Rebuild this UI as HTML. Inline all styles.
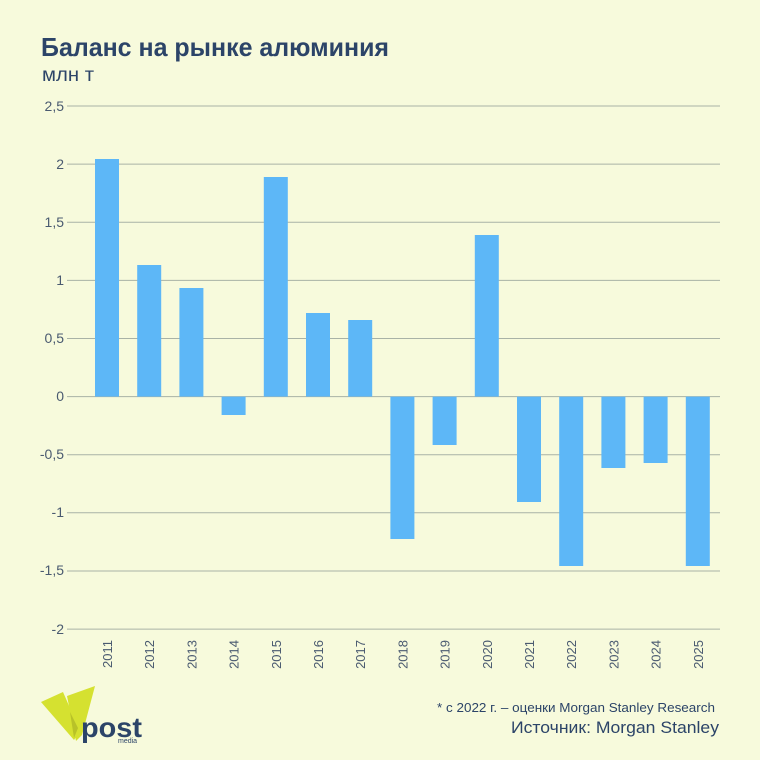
<!DOCTYPE html>
<html><head><meta charset="utf-8"><style>
html,body{margin:0;padding:0;background:#f7fadc;}
svg{display:block;font-family:"Liberation Sans",sans-serif;}
</style></head><body>
<svg width="760" height="760" viewBox="0 0 760 760" xmlns="http://www.w3.org/2000/svg">
<rect width="760" height="760" fill="#f7fadc"/>
<text x="41" y="56" font-size="26" font-weight="bold" fill="#2c4468" textLength="348" lengthAdjust="spacingAndGlyphs">Баланс на рынке алюминия</text>
<text x="42" y="81" font-size="19" fill="#2c4468" textLength="52" lengthAdjust="spacingAndGlyphs">млн т</text>
<g stroke="#a9b2a6" stroke-width="1">
<line x1="67" x2="720" y1="106" y2="106"/>
<line x1="67" x2="720" y1="164.1" y2="164.1"/>
<line x1="67" x2="720" y1="222.2" y2="222.2"/>
<line x1="67" x2="720" y1="280.4" y2="280.4"/>
<line x1="67" x2="720" y1="338.5" y2="338.5"/>
<line x1="67" x2="720" y1="396.6" y2="396.6"/>
<line x1="67" x2="720" y1="454.7" y2="454.7"/>
<line x1="67" x2="720" y1="512.8" y2="512.8"/>
<line x1="67" x2="720" y1="571" y2="571"/>
<line x1="67" x2="720" y1="629.1" y2="629.1"/>
</g>
<g font-size="14" fill="#4a5a70" text-anchor="end">
<text x="64" y="111">2,5</text>
<text x="64" y="169">2</text>
<text x="64" y="227">1,5</text>
<text x="64" y="285">1</text>
<text x="64" y="343">0,5</text>
<text x="64" y="401">0</text>
<text x="64" y="459">-0,5</text>
<text x="64" y="517">-1</text>
<text x="64" y="575">-1,5</text>
<text x="64" y="634">-2</text>
</g>
<g fill="#5db7f7">
<rect x="95" y="159" width="24" height="237.6"/>
<rect x="137.2" y="265" width="24" height="131.6"/>
<rect x="179.4" y="288" width="24" height="108.6"/>
<rect x="221.6" y="396.6" width="24" height="18.4"/>
<rect x="263.8" y="177" width="24" height="219.6"/>
<rect x="306" y="313" width="24" height="83.6"/>
<rect x="348.2" y="320" width="24" height="76.6"/>
<rect x="390.4" y="396.6" width="24" height="142.4"/>
<rect x="432.6" y="396.6" width="24" height="48.4"/>
<rect x="474.8" y="235" width="24" height="161.6"/>
<rect x="517" y="396.6" width="24" height="105.4"/>
<rect x="559.2" y="396.6" width="24" height="169.4"/>
<rect x="601.4" y="396.6" width="24" height="71.4"/>
<rect x="643.6" y="396.6" width="24" height="66.4"/>
<rect x="685.8" y="396.6" width="24" height="169.4"/>
</g>
<g font-size="13" fill="#4a5a70" text-anchor="end">
<text transform="translate(112,640) rotate(-90)">2011</text>
<text transform="translate(154.2,640) rotate(-90)">2012</text>
<text transform="translate(196.4,640) rotate(-90)">2013</text>
<text transform="translate(238.6,640) rotate(-90)">2014</text>
<text transform="translate(280.8,640) rotate(-90)">2015</text>
<text transform="translate(323,640) rotate(-90)">2016</text>
<text transform="translate(365.2,640) rotate(-90)">2017</text>
<text transform="translate(407.4,640) rotate(-90)">2018</text>
<text transform="translate(449.6,640) rotate(-90)">2019</text>
<text transform="translate(491.8,640) rotate(-90)">2020</text>
<text transform="translate(534,640) rotate(-90)">2021</text>
<text transform="translate(576.2,640) rotate(-90)">2022</text>
<text transform="translate(618.4,640) rotate(-90)">2023</text>
<text transform="translate(660.6,640) rotate(-90)">2024</text>
<text transform="translate(702.8,640) rotate(-90)">2025</text>
</g>
<text x="715" y="712" font-size="13" fill="#2c4468" text-anchor="end" textLength="278" lengthAdjust="spacingAndGlyphs">* с 2022 г. – оценки Morgan Stanley Research</text>
<text x="719" y="733" font-size="17" fill="#2c4468" text-anchor="end" textLength="208" lengthAdjust="spacingAndGlyphs">Источник: Morgan Stanley</text>
<!-- logo -->
<polygon points="41,702 63,692 80,731 74,740" fill="#d5e130"/>
<polygon points="67,696 95,686 82,735 76,741" fill="#d5e130"/>
<polygon points="70,712 78,728 74,738" fill="#b8c228"/>
<text x="81" y="737" font-size="28" font-weight="bold" fill="#2c4468" textLength="61" lengthAdjust="spacingAndGlyphs">post</text>
<text x="118" y="743" font-size="7" fill="#2c4468">media</text>
</svg>
</body></html>
